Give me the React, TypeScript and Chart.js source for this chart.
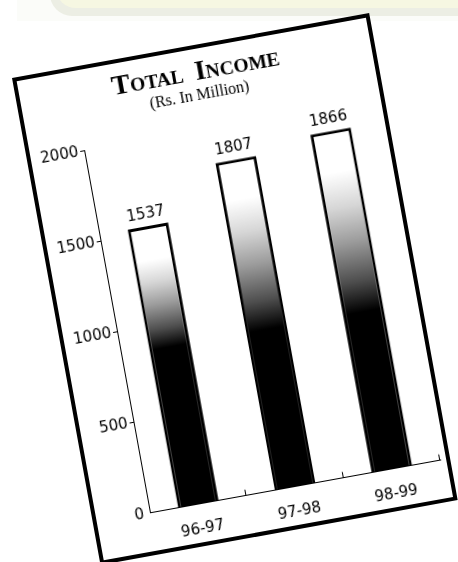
import React, { useEffect, useRef } from "react";
import { Chart, registerables } from "chart.js";

Chart.register(...registerables);

const categories = ["96-97", "97-98", "98-99"];
const incomeValues = [1537, 1807, 1866];
const yTicks = [0, 500, 1000, 1500, 2000];
const titleText = "Total Income";
const subtitleText = "(Rs. In Million)";

const SANS = "'DejaVu Sans', sans-serif";
const SERIF = "'Liberation Serif', 'Times New Roman', serif";
const SOLID_BLACK_BELOW = 870; // shading style: bars are solid black below this level

const titlePlugin = {
  id: "smallCapsTitle",
  afterDraw(chart: any) {
    const { ctx, width } = chart;
    ctx.save();
    ctx.fillStyle = "#000";
    ctx.textBaseline = "alphabetic";
    const big = 28;
    const small = 19.5;
    const gap = 12;
    const words = titleText.split(" ");
    const segs: any[] = [];
    let total = 0;
    words.forEach((w, i) => {
      const a = w.charAt(0).toUpperCase();
      const b = w.slice(1).toUpperCase();
      const fa = `bold ${big}px ${SERIF}`;
      const fb = `bold ${small}px ${SERIF}`;
      ctx.font = fa;
      const wa = ctx.measureText(a).width;
      ctx.font = fb;
      const wb = ctx.measureText(b).width;
      const g = i < words.length - 1 ? gap : 0;
      segs.push({ t: a, f: fa, w: wa });
      segs.push({ t: b, f: fb, w: wb + g });
      total += wa + wb + g;
    });
    let x = width / 2 - total / 2;
    ctx.textAlign = "left";
    segs.forEach((s: any) => {
      ctx.font = s.f;
      ctx.fillText(s.t, x, 31);
      x += s.w;
    });
    ctx.font = `16px ${SERIF}`;
    ctx.textAlign = "center";
    ctx.fillText(subtitleText, width / 2, 51);
    ctx.restore();
  },
};

const barExtrasPlugin = {
  id: "barExtras",
  afterDatasetsDraw(chart: any) {
    const { ctx, scales } = chart;
    const xs = scales.x;
    const meta = chart.getDatasetMeta(0);
    ctx.save();
    ctx.strokeStyle = "#000";
    ctx.lineWidth = 1;
    const step = (xs.right - xs.left) / categories.length;
    for (let i = 1; i <= categories.length; i++) {
      const px = Math.round(xs.left + i * step) - 0.5;
      ctx.beginPath();
      ctx.moveTo(px, xs.top);
      ctx.lineTo(px, xs.top - 6);
      ctx.stroke();
    }
    ctx.fillStyle = "#000";
    ctx.font = `15px ${SANS}`;
    ctx.textAlign = "center";
    ctx.textBaseline = "alphabetic";
    meta.data.forEach((bar: any, i: number) => {
      ctx.fillText(String(incomeValues[i]), bar.x, bar.y - 8);
    });
    ctx.restore();
  },
};

export default function App() {
  const ref = useRef<HTMLCanvasElement | null>(null);

  useEffect(() => {
    if (!ref.current) return;
    const chart = new Chart(ref.current, {
      type: "bar",
      data: {
        labels: categories,
        datasets: [
          {
            data: incomeValues,
            backgroundColor: (c: any) => {
              const chart = c.chart;
              const { ctx, scales } = chart;
              if (!scales || !scales.y || c.type !== "data") return "#000";
              const y0 = scales.y.getPixelForValue(0);
              const y1 = scales.y.getPixelForValue(c.raw);
              const yb = scales.y.getPixelForValue(SOLID_BLACK_BELOW);
              if (!isFinite(y0) || !isFinite(y1)) return "#000";
              const g = ctx.createLinearGradient(0, y1, 0, y0);
              const wEnd = 0.12;
              const bStart = Math.min(0.95, Math.max(wEnd + 0.1, (yb - y1) / (y0 - y1)));
              const at = (f: number) => wEnd + f * (bStart - wEnd);
              g.addColorStop(0, "#ffffff");
              g.addColorStop(wEnd, "#ffffff");
              g.addColorStop(at(0.25), "#d6d6d6");
              g.addColorStop(at(0.5), "#9c9c9c");
              g.addColorStop(at(0.78), "#4e4e4e");
              g.addColorStop(bStart, "#000000");
              g.addColorStop(1, "#000000");
              return g;
            },
            borderColor: "#000",
            borderWidth: { top: 3, left: 3, right: 3, bottom: 0 },
            borderSkipped: "bottom",
            barPercentage: 0.42,
            categoryPercentage: 1,
          },
        ],
      },
      options: {
        responsive: false,
        animation: false,
        events: [],
        layout: { padding: { top: 80.7, right: 6, left: 0, bottom: 0 } },
        plugins: {
          legend: { display: false },
          title: { display: false },
          tooltip: { enabled: false },
        },
        scales: {
          x: {
            grid: { display: false },
            border: { display: true, color: "#000", width: 1 },
            ticks: {
              color: "#000",
              font: { family: SANS, size: 15 },
              padding: 8,
              maxRotation: 0,
            },
            afterFit: (s: any) => {
              s.height = 38.3;
            },
          },
          y: {
            min: 0,
            max: 2000,
            afterBuildTicks: (s: any) => {
              s.ticks = yTicks.map((v) => ({ value: v }));
            },
            grid: {
              display: true,
              drawOnChartArea: false,
              drawTicks: true,
              tickLength: 4,
              color: (c: any) => (c.tick && c.tick.value === 0 ? "rgba(0,0,0,0)" : "#000"),
              lineWidth: 1,
            },
            border: { display: true, color: "#000", width: 1 },
            ticks: {
              color: "#000",
              font: { family: SANS, size: 15 },
              padding: 2,
              callback: (v: any) => String(v),
            },
            afterFit: (s: any) => {
              s.width = 54;
            },
          },
        },
      },
      plugins: [titlePlugin, barExtrasPlugin],
    } as any);
    return () => chart.destroy();
  }, []);

  return (
    <div
      style={{
        position: "fixed",
        left: 0,
        top: 0,
        width: 458,
        height: 562,
        overflow: "hidden",
        background: "#ffffff",
      }}
    >
      <div
        style={{
          position: "absolute",
          left: 17,
          top: 0,
          width: 460,
          height: 21,
          background: "#fbfcf9",
        }}
      />
      <div
        style={{
          position: "absolute",
          left: 50,
          top: -20,
          width: 430,
          height: 36,
          borderRadius: "0 0 0 22px",
          background: "#eceee4",
        }}
      />
      <div
        style={{
          position: "absolute",
          left: 56,
          top: -20,
          width: 420,
          height: 28,
          borderRadius: "0 0 0 20px",
          background: "#f6f7e2",
        }}
      />
      <div
        style={{
          position: "absolute",
          left: 12,
          top: 78,
          width: 363,
          height: 495,
          transformOrigin: "0 0",
          transform: "rotate(-10.3deg)",
          border: "4px solid #000",
          boxSizing: "border-box",
          background: "#fff",
        }}
      >
        <canvas ref={ref} width={355} height={487} style={{ display: "block", width: 355, height: 487 }} />
      </div>
    </div>
  );
}
